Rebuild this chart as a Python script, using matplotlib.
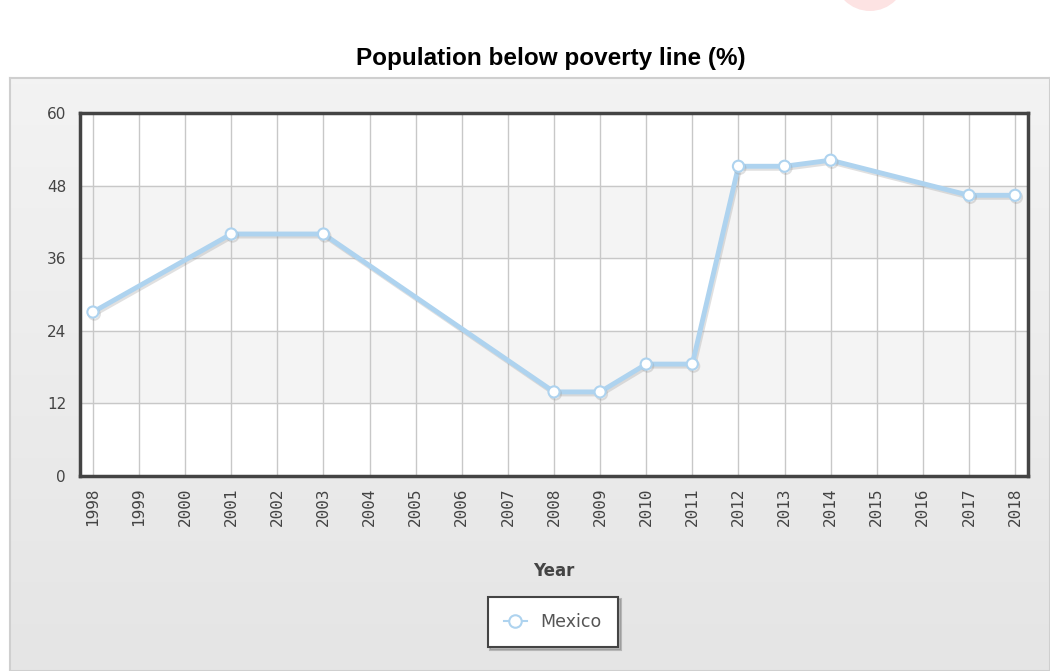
import numpy as np
import matplotlib.pyplot as plt
import matplotlib.patches as mpatches
import matplotlib.patheffects as pe
from matplotlib.lines import Line2D
from matplotlib.colors import LinearSegmentedColormap

years = [1998, 2001, 2003, 2008, 2009, 2010, 2011, 2012, 2013, 2014, 2017, 2018]
poverty = [27.1, 40.0, 40.0, 13.9, 13.9, 18.5, 18.5, 51.2, 51.2, 52.2, 46.4, 46.4]
tick_years = list(range(1998, 2019))
y_ticks = [0, 12, 24, 36, 48, 60]

W, H = 1050, 671
fig = plt.figure(figsize=(W / 100, H / 100), dpi=100)

# grey gradient panel behind the chart
bg = fig.add_axes([10 / W, 0, 1 - 10 / W, (H - 78) / H], zorder=-10)
grad = np.linspace(0, 1, 100).reshape(-1, 1)
bg.imshow(grad, aspect='auto', cmap=LinearSegmentedColormap.from_list('g', ['#e5e5e5', '#f3f3f3']),
          origin='lower', extent=[0, 1, 0, 1])
bg.set_xticks([])
bg.set_yticks([])
for s in bg.spines.values():
    s.set_color('#cfcfcf')
    s.set_linewidth(1.5)

# faint pink mark at the top edge
fig.add_artist(mpatches.Ellipse((870 / W, (H + 25) / H), 72 / W, 72 / H, transform=fig.transFigure,
                                facecolor='#fde3e3', edgecolor='none'))

ax = fig.add_axes([80 / W, (H - 476) / H, 948 / W, 363 / H])
ax.set_facecolor('white')

# alternating bands
for i in range(len(y_ticks) - 1):
    if i % 2 == 1:
        ax.axhspan(y_ticks[i], y_ticks[i + 1], color='#f4f4f4', zorder=0)

ax.set_xlim(1998 - 0.28, 2018 + 0.28)
ax.set_ylim(0, 60)
ax.set_xticks(tick_years)
ax.set_xticklabels([str(y) for y in tick_years], rotation=90, fontsize=11.5,
                   family='DejaVu Sans Mono', color='#444444')
ax.set_yticks(y_ticks)
ax.set_yticklabels([str(v) for v in y_ticks], fontsize=11, color='#444444')
ax.tick_params(length=0, pad=8)
ax.tick_params(axis='y', pad=10)
ax.grid(True, color='#c8c8c8', linewidth=1)
ax.set_axisbelow(True)
for s in ax.spines.values():
    s.set_color('#444444')
    s.set_linewidth(2.5)

ax.plot(years, poverty, color='#aed3ef', linewidth=3.5, marker='o', markersize=8,
        markerfacecolor='white', markeredgecolor='#aed3ef', markeredgewidth=1.5,
        label='Mexico', zorder=3,
        path_effects=[pe.SimpleLineShadow(offset=(1, -1.5), shadow_color='#999999', alpha=0.3),
                      pe.Normal()])

ax.set_xlabel('Year', fontsize=12, fontweight='bold', color='#444444', labelpad=26)

fig.text(551 / W, 1 - 58 / H, 'Population below poverty line (%)', ha='center', va='center',
         fontsize=17.5, fontweight='bold', family=['Liberation Sans', 'DejaVu Sans'])

handle = Line2D([], [], color='#aed3ef', linewidth=1.5, marker='o', markersize=9,
                markerfacecolor='white', markeredgecolor='#aed3ef', markeredgewidth=1.5)
leg = fig.legend([handle], ['Mexico'], loc='center', bbox_to_anchor=(553 / W, 1 - 622 / H),
                 frameon=True, fancybox=False, shadow={'color': '#888888', 'alpha': 0.5},
                 fontsize=12.5, handlelength=1.3, borderpad=0.95, borderaxespad=0,
                 edgecolor='#444444', framealpha=1)
leg.get_frame().set_linewidth(1.5)
for t in leg.get_texts():
    t.set_color('#555555')

fig.savefig('out.png', dpi=100)
